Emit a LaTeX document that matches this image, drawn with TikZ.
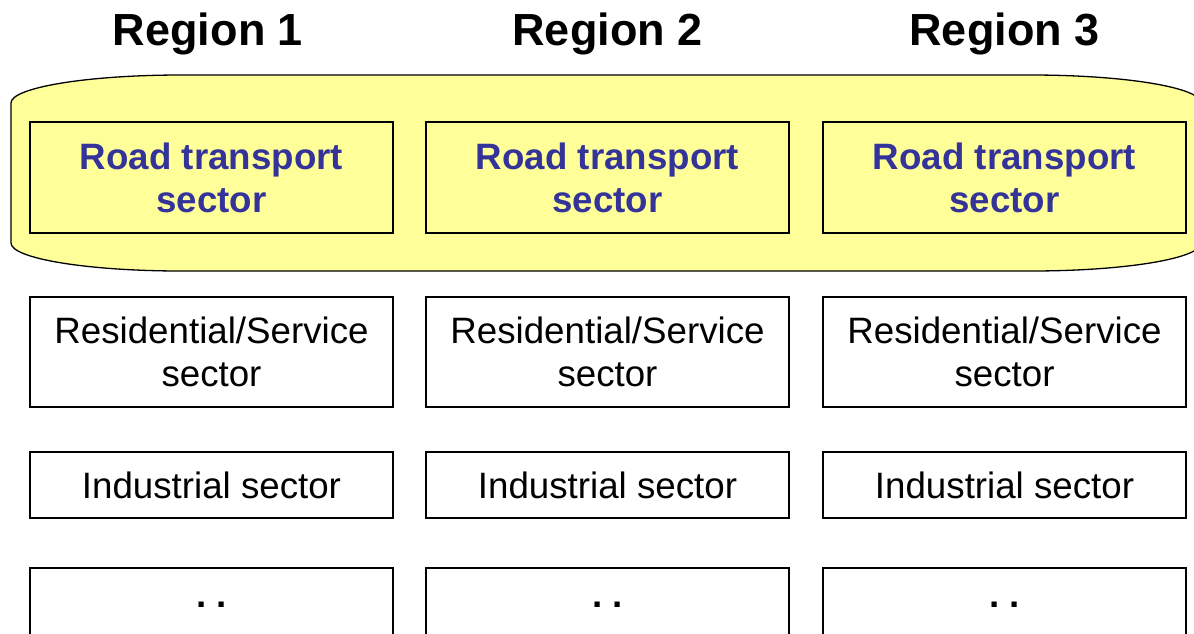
\documentclass[tikz,border=0pt]{standalone}
\usepackage{fontspec}
\setmainfont{Liberation Sans}
\definecolor{shelffill}{HTML}{FFFF99}
\definecolor{roadblue}{HTML}{333399}
\begin{document}
\begin{tikzpicture}[x=1pt,y=-1pt,
  sectorbox/.style={draw=black, line width=1.3pt, minimum width=363pt,
    inner sep=0pt, align=center, font=\fontsize{36.7}{43}\selectfont},
  roadbox/.style={sectorbox, fill=shelffill, text=roadblue,
    font=\bfseries\fontsize{36.7}{43}\selectfont, minimum height=111pt},
  resbox/.style={sectorbox, minimum height=110pt},
  indbox/.style={sectorbox, minimum height=66pt},
  morebox/.style={sectorbox, minimum height=74pt,
    font=\bfseries\fontsize{36.7}{43}\selectfont},
  heading/.style={anchor=base, inner sep=0pt,
    font=\bfseries\fontsize{45}{54}\selectfont},
  shelf/.style={draw=black, line width=1.3pt, fill=shelffill}
]
\clip (0,0) rectangle (1194,633);

% column headings
\node[heading] (h1) at (208,45)    {Region 1};
\node[heading] (h2) at (607.5,45)  {Region 2};
\node[heading] (h3) at (1004.5,45) {Region 3};

% yellow band grouping the road transport sectors
\path[shelf] (181,75) -- (1031,75)
  arc[start angle=90, end angle=0, x radius=170pt, y radius=28pt]
  -- (1201,243)
  arc[start angle=0, end angle=-90, x radius=170pt, y radius=28pt]
  -- (181,271)
  arc[start angle=-90, end angle=-180, x radius=170pt, y radius=28pt]
  -- (11,103)
  arc[start angle=180, end angle=90, x radius=170pt, y radius=28pt]
  -- cycle;

% sector boxes, one column per region
\foreach \c/\x in {1/211.5, 2/607.5, 3/1004.5} {
  \node[roadbox] (road\c) at (\x,177.5) {Road transport\\sector};
  \node[resbox]  (res\c)  at (\x,352)   {Residential/Service\\sector};
  \node[indbox]  (ind\c)  at (\x,485)   {Industrial sector};
  \node[morebox] (more\c) at (\x,605)   {.\ .};
}
\end{tikzpicture}
\end{document}
